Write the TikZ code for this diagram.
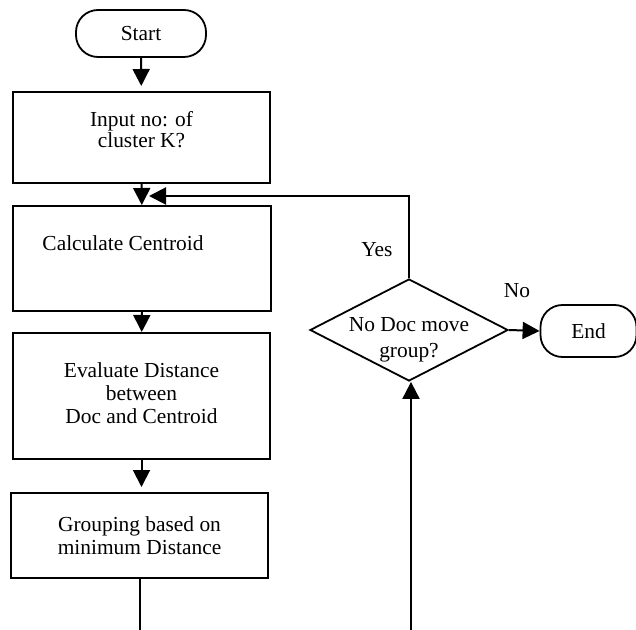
\documentclass[tikz,border=0pt]{standalone}
\usepackage{fontspec}
\setmainfont{Liberation Serif}
\usetikzlibrary{arrows.meta,shapes.geometric}
\begin{document}
\begin{tikzpicture}[x=0.5pt,y=-0.5pt,
  every node/.style={font=\fontsize{10.7}{11.4}\selectfont, inner sep=0pt},
  box/.style={draw, line width=1pt, rectangle, align=center},
  term/.style={draw, line width=0.9pt, rectangle, rounded corners=11pt, align=center},
  dec/.style={draw, line width=0.9pt, diamond, aspect=1.94, align=center},
  arr/.style={line width=1pt, -{Triangle[length=8.5pt,width=8.5pt]}},
  ln/.style={line width=1pt}]
\useasboundingbox (0,0) rectangle (636,630);
\node[term, minimum width=65pt, minimum height=23.5pt] (start) at (141,33.5) {Start};
\node[box, minimum width=128.5pt, minimum height=45.5pt,
  label={[yshift=4pt,align=center,font=\fontsize{10.7}{10.5}\selectfont]center:Input no: of\\cluster K?}] (input) at (141.5,137.5) {};
\node[box, minimum width=129pt, minimum height=52.5pt,
  label={[xshift=-9.5pt,yshift=7.5pt]center:Calculate Centroid}] (calc) at (142,258.5) {};
\node[box, minimum width=128.5pt, minimum height=63pt,
  label={[yshift=1.5pt,align=center]center:Evaluate Distance\\between\\Doc and Centroid}] (eval) at (141.5,396) {};
\node[box, minimum width=128.5pt, minimum height=42.5pt] (group) at (139.5,535.5) {Grouping based on\\minimum Distance};
\node[dec, minimum width=99pt, minimum height=51pt,
  label={[yshift=-5pt,align=center,font=\fontsize{10.7}{13}\selectfont]center:No Doc move\\group?}] (dia) at (409,330) {};
\node[term, minimum width=48pt, minimum height=26pt] (end) at (588.5,331) {End};
\node (yes) at (377,250) {Yes};
\node (no) at (517,291) {No};
\coordinate (merge) at (149,196);
\coordinate (bl) at (140,631);
\coordinate (br) at (411,631);
\draw[arr, shorten >=2.5pt] (start) -- (input);
\draw[arr] (input) -- (calc);
\draw[arr] (calc) -- (eval);
\draw[arr, shorten >=2.5pt] (eval.south) -- (eval.south |- group.north);
\draw[arr] (dia.north) |- (merge);
\draw[ln] (group.south -| bl) -- (bl) -- (br);
\draw[arr] (br) -- (br |- dia.south);
\draw[arr] (dia.east) -- (end.west);
\end{tikzpicture}
\end{document}
